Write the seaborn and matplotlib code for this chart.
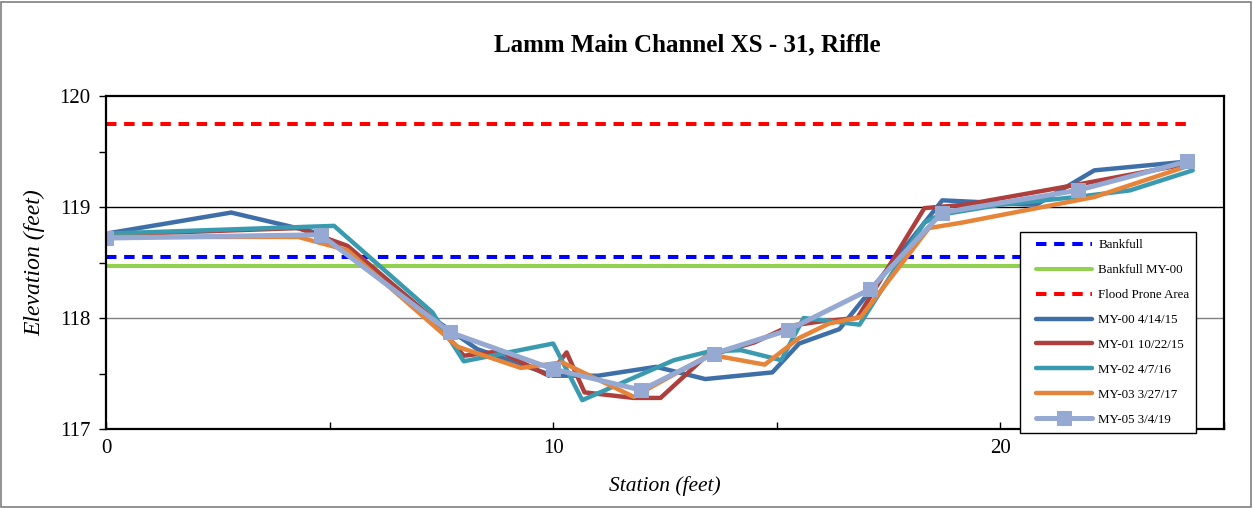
import matplotlib
matplotlib.use("Agg")
import matplotlib.pyplot as plt
import seaborn as sns
import pandas as pd
from matplotlib.patches import Rectangle
from matplotlib.ticker import MultipleLocator
from matplotlib.lines import Line2D
from matplotlib.legend_handler import HandlerLine2D

sns.set_theme(style="white")
plt.rcParams['font.family'] = ['Liberation Serif', 'DejaVu Serif']
plt.rcParams['text.color'] = 'black'
plt.rcParams['axes.labelcolor'] = 'black'
plt.rcParams['xtick.color'] = 'black'
plt.rcParams['ytick.color'] = 'black'

# --- data ---
bankfull_x = [0, 24.2]
bankfull_y = [118.55, 118.55]
bankfull_my00_y = [118.47, 118.47]
flood_prone_y = [119.75, 119.75]

my00_x = [0, 2.8, 4.8, 7.3, 8.3, 10.0, 11.0, 12.3, 13.4, 14.9, 15.5, 16.4, 17.0, 18.7, 20.8, 22.1, 24.2]
my00_y = [118.76, 118.95, 118.76, 118.0, 117.72, 117.48, 117.48, 117.56, 117.45, 117.51, 117.77, 117.9, 118.2, 119.06, 119.02, 119.33, 119.41]

my01_x = [0, 4.3, 5.4, 7.3, 8.0, 8.8, 9.9, 10.3, 10.7, 11.8, 12.4, 13.4, 14.5, 15.3, 16.0, 16.8, 18.3, 19.2, 21.7, 24.2]
my01_y = [118.75, 118.81, 118.65, 118.0, 117.66, 117.7, 117.48, 117.69, 117.33, 117.28, 117.28, 117.65, 117.78, 117.93, 117.97, 118.0, 118.99, 119.02, 119.2, 119.39]

my02_x = [0, 5.1, 7.3, 8.0, 10.0, 10.65, 12.7, 13.5, 14.2, 15.1, 15.6, 16.85, 18.3, 18.65, 20.0, 21.7, 22.9, 24.3]
my02_y = [118.76, 118.83, 118.05, 117.61, 117.77, 117.26, 117.62, 117.7, 117.71, 117.62, 118.0, 117.94, 118.86, 118.93, 119.02, 119.09, 119.15, 119.33]

my03_x = [0, 4.3, 5.4, 7.87, 9.28, 10.2, 11.8, 13.5, 14.73, 15.5, 16.17, 16.88, 18.4, 19.15, 22.1, 24.2]
my03_y = [118.73, 118.73, 118.61, 117.74, 117.55, 117.6, 117.29, 117.67, 117.58, 117.82, 117.95, 118.01, 118.81, 118.86, 119.09, 119.37]

my05_x = [0, 4.8, 7.7, 10.0, 11.97, 13.6, 15.25, 17.09, 18.7, 21.73, 24.17]
my05_y = [118.72, 118.75, 117.87, 117.54, 117.35, 117.68, 117.89, 118.26, 118.95, 119.15, 119.41]

labels = ["Bankfull", "Bankfull MY-00", "Flood Prone Area",
          "MY-00 4/14/15", "MY-01 10/22/15", "MY-02 4/7/16", "MY-03 3/27/17", "MY-05 3/4/19"]

fig = plt.figure(figsize=(12.54, 5.08), dpi=100)
ax = fig.add_axes([106/1254, 1-429/508, (1224-106)/1254, (429-96)/508])

fig.patches.append(Rectangle((0.001, 0.002), 0.997, 0.995, transform=fig.transFigure,
                             fill=False, edgecolor='#7f7f7f', linewidth=1.2))

ax.axhline(119, color='black', lw=1.0, zorder=0)
ax.axhline(118, color='#808080', lw=1.0, zorder=0)

sns.lineplot(x=bankfull_x, y=bankfull_y, ax=ax, color='#0000FF', lw=2.9, label=labels[0],
             sort=False).lines[-1].set_dashes((2.6, 1.9))
sns.lineplot(x=bankfull_x, y=bankfull_my00_y, ax=ax, color='#92D050', lw=2.9, label=labels[1], sort=False)
sns.lineplot(x=bankfull_x, y=flood_prone_y, ax=ax, color='#FF0000', lw=2.9, label=labels[2],
             sort=False).lines[-1].set_dashes((2.6, 1.9))

series = [(my00_x, my00_y, '#3F6FA9', labels[3]),
          (my01_x, my01_y, '#AD403D', labels[4]),
          (my02_x, my02_y, '#3A9BB0', labels[5]),
          (my03_x, my03_y, '#E6843A', labels[6])]
for xs, ys, c, lab in series:
    sns.lineplot(x=xs, y=ys, ax=ax, color=c, lw=3.2, label=lab, sort=False)
sns.lineplot(x=my05_x, y=my05_y, ax=ax, color='#95A9D2', lw=3.6, label=labels[7], sort=False,
             marker='s', markersize=9.5, markeredgecolor='#95A9D2')

ax.set_xlim(0, 25)
ax.set_ylim(117, 120)
ax.xaxis.set_major_locator(MultipleLocator(10))
ax.xaxis.set_minor_locator(MultipleLocator(5))
ax.yaxis.set_major_locator(MultipleLocator(1))
ax.yaxis.set_minor_locator(MultipleLocator(0.5))
ax.tick_params(axis='x', which='both', direction='in', length=5, width=1, colors='black',
               labelsize=15, bottom=True, pad=7)
ax.tick_params(axis='y', which='both', direction='out', length=5, width=1, colors='black',
               labelsize=15, left=True, pad=6)
for s in ax.spines.values():
    s.set_visible(True)
    s.set_color('black')
    s.set_linewidth(1.6)

ax.set_xlabel("Station (feet)", fontsize=15.5, style='italic', labelpad=13)
ax.set_ylabel("Elevation (feet)", fontsize=17, style='italic', labelpad=10)
fig.text(687/1254, 1-45/508, "Lamm Main Channel XS - 31, Riffle", ha='center', va='center',
         fontsize=18, fontweight='bold')

leg = ax.legend(loc='upper left', bbox_to_anchor=(1020/1254, 1-232/508), bbox_transform=fig.transFigure,
                fontsize=9.3, frameon=True, fancybox=False, edgecolor='black', framealpha=1,
                labelspacing=1.0, handlelength=5.0, handletextpad=0.5, borderpad=0.55, borderaxespad=0,
                handler_map={Line2D: HandlerLine2D(xpad=0.65)})
leg.get_frame().set_linewidth(1.0)

fig.savefig("out.png", dpi=100)
